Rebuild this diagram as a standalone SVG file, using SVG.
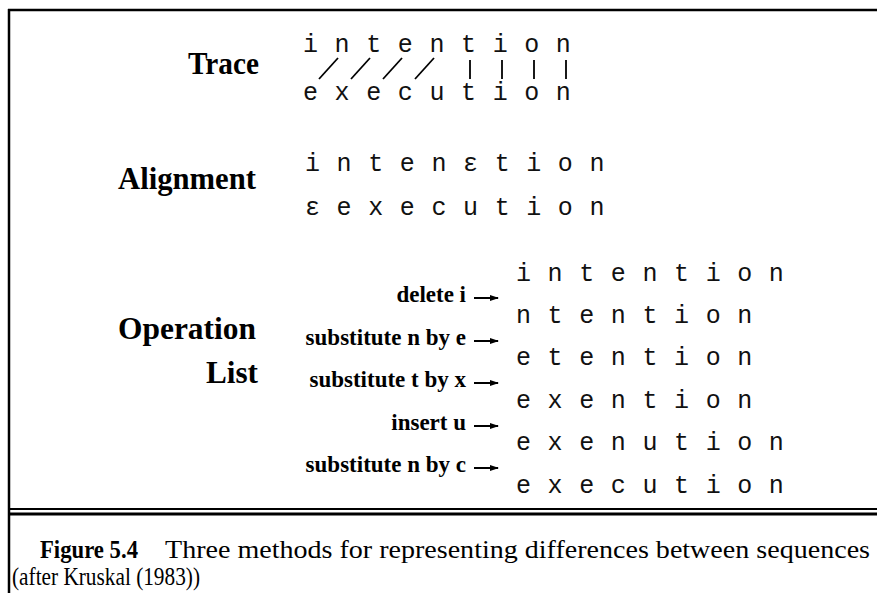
<svg xmlns="http://www.w3.org/2000/svg" width="877" height="593" viewBox="0 0 877 593">
<defs>
<style>
.lbl{font-family:"Liberation Serif","Times New Roman",serif;font-weight:bold;font-size:32px;fill:#000;text-anchor:end}
.op{font-family:"Liberation Serif","Times New Roman",serif;font-weight:bold;font-size:23px;fill:#000;text-anchor:end}
.mono{font-family:"Liberation Mono","Courier New",monospace;font-size:25px;fill:#111;letter-spacing:0.8px}
.cap{font-family:"Liberation Serif","Times New Roman",serif;font-size:25px;fill:#000}
.frame{stroke:#000;fill:none}
.tl{stroke:#000;stroke-width:1.8;fill:none}
.arr{stroke:#000;stroke-width:2;fill:none;marker-end:url(#ah)}
</style>
<marker id="ah" markerWidth="9" markerHeight="6" refX="8" refY="3" orient="auto" markerUnits="userSpaceOnUse">
<path d="M0,0 L9,3 L0,6 Z" fill="#000"/>
</marker>
</defs>
<rect width="877" height="593" fill="#fff"/>
<g id="frame">
<line class="frame" x1="8" y1="10" x2="877" y2="10" stroke-width="2.5"/>
<line class="frame" x1="9" y1="9" x2="9" y2="593" stroke-width="2.5"/>
<line class="frame" x1="9" y1="509" x2="877" y2="509" stroke-width="2"/>
<line class="frame" x1="9" y1="514" x2="877" y2="514" stroke-width="3"/>
</g>
<g id="trace">
<text class="lbl" x="259" y="74" textLength="71" lengthAdjust="spacingAndGlyphs">Trace</text>
<text class="mono" x="303" y="52">i n t e n t i o n</text>
<text class="mono" x="303" y="100">e x e c u t i o n</text>
</g>
<g id="connectors">
<line class="tl" x1="338" y1="58" x2="319" y2="79"/>
<line class="tl" x1="370" y1="58" x2="351" y2="79"/>
<line class="tl" x1="402" y1="58" x2="383" y2="79"/>
<line class="tl" x1="434" y1="58" x2="415" y2="79"/>
<line class="tl" x1="470" y1="60" x2="470" y2="79"/>
<line class="tl" x1="502" y1="60" x2="502" y2="79"/>
<line class="tl" x1="534" y1="60" x2="534" y2="79"/>
<line class="tl" x1="566" y1="60" x2="566" y2="79"/>
<line class="arr" x1="474" y1="298" x2="498" y2="298"/>
<line class="arr" x1="474" y1="341" x2="498" y2="341"/>
<line class="arr" x1="474" y1="383" x2="498" y2="383"/>
<line class="arr" x1="474" y1="426" x2="498" y2="426"/>
<line class="arr" x1="474" y1="468" x2="498" y2="468"/>
</g>
<g id="alignment">
<text class="lbl" x="256" y="189" textLength="138" lengthAdjust="spacingAndGlyphs">Alignment</text>
<text class="mono" x="305" y="171">i n t e n ε t i o n</text>
<text class="mono" x="305" y="215">ε e x e c u t i o n</text>
</g>
<g id="operation-list">
<text class="lbl" x="256" y="339" textLength="138" lengthAdjust="spacingAndGlyphs">Operation</text>
<text class="lbl" x="258" y="383" textLength="52" lengthAdjust="spacingAndGlyphs">List</text>
<text class="op" x="466" y="302">delete i</text>
<text class="op" x="466" y="345">substitute n by e</text>
<text class="op" x="466" y="387">substitute t by x</text>
<text class="op" x="466" y="430">insert u</text>
<text class="op" x="466" y="472">substitute n by c</text>
<text class="mono" x="516" y="281">i n t e n t i o n</text>
<text class="mono" x="516" y="323">n t e n t i o n</text>
<text class="mono" x="516" y="365">e t e n t i o n</text>
<text class="mono" x="516" y="408">e x e n t i o n</text>
<text class="mono" x="516" y="450">e x e n u t i o n</text>
<text class="mono" x="516" y="493">e x e c u t i o n</text>
</g>
<g id="caption">
<text class="cap" x="40" y="558" font-weight="bold" textLength="98" lengthAdjust="spacingAndGlyphs">Figure 5.4</text>
<text class="cap" x="165" y="558" textLength="705" lengthAdjust="spacingAndGlyphs">Three methods for representing differences between sequences</text>
<text class="cap" x="12" y="585" textLength="188" lengthAdjust="spacingAndGlyphs">(after Kruskal (1983))</text>
</g>
</svg>
